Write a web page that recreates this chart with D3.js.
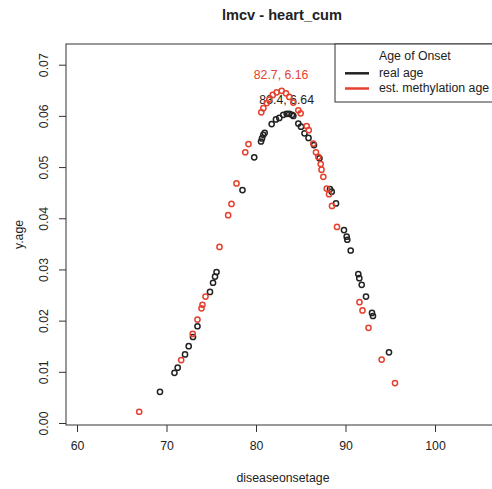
<!DOCTYPE html>
<html>
<head>
<meta charset="utf-8">
<script src="https://cdn.jsdelivr.net/npm/d3@7"></script>
<style>
    body { margin: 0; background: #fff; }
    svg { display: block; font-family: "Liberation Sans", Arial, sans-serif; }
</style>
</head>
<body>
<div class="onset-plot"></div>
<script>

// real age (black)
const real_x = [69.27, 70.89, 71.25, 72.07, 72.48, 72.96, 73.46, 74.86, 75.2, 75.42, 75.59,
    78.49, 79.8, 80.56, 80.67, 80.82, 80.97, 81.75, 82.23, 82.6, 83.05, 83.43, 83.72, 84.02,
    84.17, 84.73, 85.03, 85.42, 85.87, 86.48, 87.09, 88.27, 88.46, 88.94, 89.83, 90.13, 90.2,
    90.58, 91.43, 91.54, 91.81, 92.29, 92.96, 93.07, 94.86];
const real_y = [0.0061, 0.0098, 0.0108, 0.0134, 0.015, 0.0168, 0.0189, 0.0256, 0.0274, 0.0286, 0.0295,
    0.0455, 0.0519, 0.055, 0.0556, 0.0563, 0.0567, 0.0584, 0.0593, 0.0596, 0.0602, 0.0604, 0.0604, 0.0602,
    0.06, 0.0585, 0.0579, 0.0566, 0.0557, 0.0543, 0.0517, 0.0457, 0.0452, 0.0429, 0.0377, 0.0364, 0.0358,
    0.0337, 0.0291, 0.0283, 0.027, 0.0247, 0.0215, 0.0209, 0.0138];

// est. methylation age (red)
const est_x = [66.95, 71.64, 72.93, 73.46, 73.91, 74.02, 74.36, 75.92, 76.89, 77.26, 77.82,
    78.8, 79.16, 80.59, 80.82, 81.2, 81.49, 81.87, 82.31, 82.87, 83.35, 83.72, 84.17, 84.73,
    84.99, 85.66, 85.89, 86.4, 86.7, 86.96, 87.23, 87.32, 87.52, 87.9, 88.16, 88.49, 89.05,
    91.56, 91.9, 92.57, 94.04, 95.53];
const est_y = [0.0022, 0.0123, 0.0174, 0.0202, 0.0224, 0.0231, 0.0247, 0.0344, 0.0406, 0.0428, 0.0468,
    0.0529, 0.0545, 0.0607, 0.0615, 0.0625, 0.0632, 0.0641, 0.0646, 0.0649, 0.0644, 0.0637, 0.0626, 0.0611,
    0.0605, 0.058, 0.0572, 0.0546, 0.0529, 0.052, 0.0506, 0.0495, 0.0481, 0.0458, 0.0447, 0.0424, 0.0383,
    0.0236, 0.022, 0.0186, 0.0124, 0.0078];

// mean, sd labels
const label_text = ["83.4, 6.64", "82.7, 6.16"];
const label_x = [83.43, 82.8];
const label_y = [0.0632, 0.0679];

const x_ticks = [60, 70, 80, 90, 100];
const y_ticks = [0, 0.01, 0.02, 0.03, 0.04, 0.05, 0.06, 0.07];
const legend_labels = ["real age", "est. methylation age"];

// constants
const width = 492;
const height = 489;
const box = { left: 66, top: 44, right: 500, bottom: 425 };
const black = "#222";
const red = "#e5412e";
const font_size = 12.3;

let svg = d3.select(".onset-plot").append("svg")
    .attr("width", width)
    .attr("height", height);

// scales
const x_scale = d3.scaleLinear().domain([60, 100]).range([77, 435]);
const y_scale = d3.scaleLinear().domain([0, 0.07]).range([423, 64.7]);

// box
svg.append("rect")
    .attr("x", box.left)
    .attr("y", box.top)
    .attr("width", box.right - box.left)
    .attr("height", box.bottom - box.top)
    .attr("fill", "none")
    .attr("stroke", "#333")
    .attr("stroke-width", 1);

// x axis
const x_axis = d3.axisBottom(x_scale)
    .tickValues(x_ticks)
    .tickSize(7)
    .tickPadding(9)
    .tickSizeOuter(0);
const gx = svg.append("g")
    .attr("transform", "translate(0," + box.bottom + ")")
    .call(x_axis);
gx.select(".domain").remove();
gx.selectAll("line").attr("stroke", "#333");
gx.selectAll("text")
    .attr("font-size", font_size)
    .attr("font-family", "Liberation Sans, Arial, sans-serif")
    .attr("fill", "#222");

// y axis, labels rotated as in R
const y_axis = d3.axisLeft(y_scale)
    .tickValues(y_ticks)
    .tickSize(7)
    .tickFormat(d3.format(".2f"))
    .tickSizeOuter(0);
const gy = svg.append("g")
    .attr("transform", "translate(" + box.left + ",0)")
    .call(y_axis);
gy.select(".domain").remove();
gy.selectAll("line").attr("stroke", "#333");
gy.selectAll("text")
    .attr("font-size", font_size)
    .attr("font-family", "Liberation Sans, Arial, sans-serif")
    .attr("fill", "#222")
    .attr("x", null)
    .attr("dy", null)
    .attr("text-anchor", "middle")
    .attr("transform", "translate(-18,0) rotate(-90)");

// titles
svg.append("text")
    .attr("x", 282)
    .attr("y", 20)
    .attr("text-anchor", "middle")
    .attr("font-size", 14.6)
    .attr("font-weight", "bold")
    .attr("fill", "#222")
    .text("lmcv - heart_cum");

svg.append("text")
    .attr("x", 283)
    .attr("y", 482)
    .attr("text-anchor", "middle")
    .attr("font-size", font_size)
    .attr("fill", "#222")
    .text("diseaseonsetage");

svg.append("text")
    .attr("transform", "translate(23," + ((box.top + box.bottom) / 2) + ") rotate(-90)")
    .attr("text-anchor", "middle")
    .attr("font-size", font_size)
    .attr("fill", "#222")
    .text("y.age");

// draw points
const real_data = real_x.map((x, i) => ({ x: x, y: real_y[i] }));
const est_data = est_x.map((x, i) => ({ x: x, y: est_y[i] }));

function draw_dots(data, color) {
    svg.append("g").selectAll("circle")
        .data(data).enter()
        .append("circle")
        .attr("cx", d => x_scale(d.x))
        .attr("cy", d => y_scale(d.y))
        .attr("r", 2.6)
        .attr("fill", "none")
        .attr("stroke", color)
        .attr("stroke-width", 1.5);
}

function draw_label(i, color) {
    svg.append("text")
        .attr("x", x_scale(label_x[i]))
        .attr("y", y_scale(label_y[i]))
        .attr("text-anchor", "middle")
        .attr("dominant-baseline", "central")
        .attr("font-size", font_size)
        .attr("fill", color)
        .text(label_text[i]);
}

draw_dots(real_data, black);
draw_label(0, black);
draw_dots(est_data, red);
draw_label(1, red);

// legend
const legend = svg.append("g");
legend.append("rect")
    .attr("x", 335)
    .attr("y", box.top)
    .attr("width", 158)
    .attr("height", 58)
    .attr("fill", "#fff")
    .attr("stroke", "#333")
    .attr("stroke-width", 1);
legend.append("text")
    .attr("x", 379)
    .attr("y", 59.5)
    .attr("font-size", font_size)
    .attr("fill", "#222")
    .text("Age of Onset");
[black, red].forEach(function(color, i) {
    const ly = 73.3 + i * 15.2;
    legend.append("line")
        .attr("x1", 345).attr("x2", 369)
        .attr("y1", ly).attr("y2", ly)
        .attr("stroke", color)
        .attr("stroke-width", 2.5);
    legend.append("text")
        .attr("x", 379)
        .attr("y", ly + 3.5)
        .attr("font-size", font_size)
        .attr("fill", "#222")
        .text(legend_labels[i]);
});

</script>
</body>
</html>
